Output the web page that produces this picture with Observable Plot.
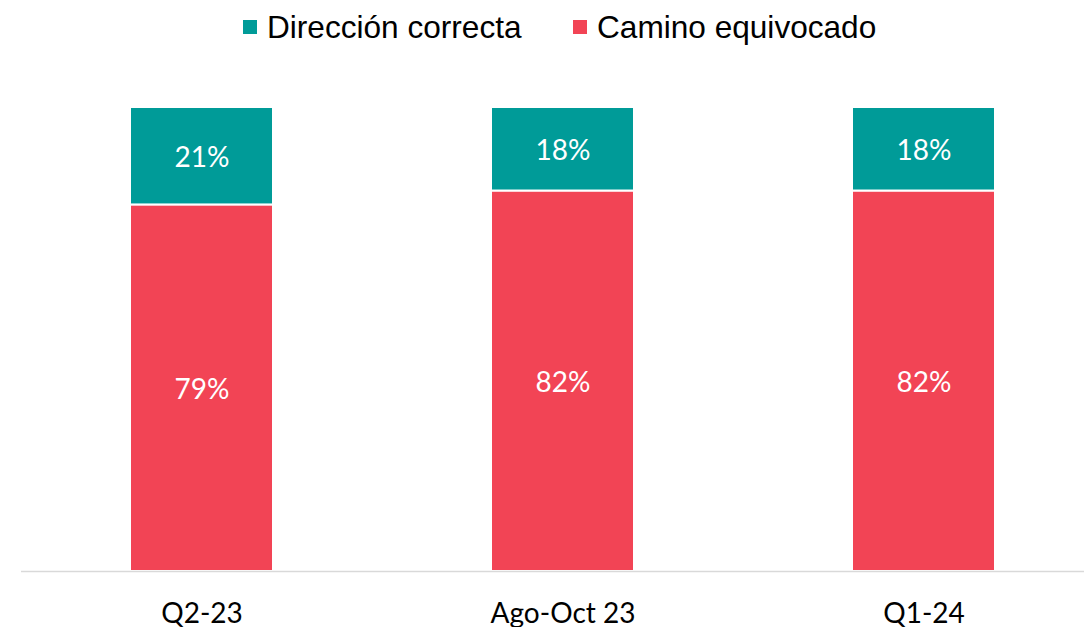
<!DOCTYPE html>
<html><head><meta charset="utf-8">
<script src="https://cdn.jsdelivr.net/npm/d3@7"></script>
<script src="https://cdn.jsdelivr.net/npm/@observablehq/plot@0.6"></script>
<style>
html,body{margin:0;padding:0;background:#fff}
body{width:1084px;height:627px;overflow:hidden}
#legend{position:relative;height:56px;font-family:"Liberation Sans",Arial,sans-serif;font-size:31.6px;color:#000}
.item{position:absolute;top:12px;height:31px;line-height:31px;white-space:nowrap}
.sw{position:absolute;left:0;top:8px;width:14px;height:14px}
.lab{position:absolute;left:24px;top:0}
#chart svg{display:block}
</style></head>
<body>
<div id="legend"></div>
<div id="chart"></div>
<script>
const categories = ["Q2-23", "Ago-Oct 23", "Q1-24"];
const seriesNames = ["Camino equivocado", "Dirección correcta"];
const caminoEquivocado = [79, 82, 82];
const direccionCorrecta = [21, 18, 18];
const colors = {"Camino equivocado": "#F24455", "Dirección correcta": "#009B98"};

const data = [];
categories.forEach((c, i) => {
  data.push({cat: c, serie: "Camino equivocado", value: caminoEquivocado[i]});
  data.push({cat: c, serie: "Dirección correcta", value: direccionCorrecta[i]});
});

// legend
const legend = document.getElementById("legend");
const legendItems = [["Dirección correcta", 243], ["Camino equivocado", 573]];
legendItems.forEach(([name, left]) => {
  const it = document.createElement("div");
  it.className = "item";
  it.style.left = left + "px";
  it.innerHTML = `<div class="sw" style="background:${colors[name]}"></div><span class="lab">${name}</span>`;
  legend.appendChild(it);
});

const chart = Plot.plot({
  width: 1084,
  height: 571,
  marginTop: 51,
  marginBottom: 56,
  marginLeft: 21,
  marginRight: 0,
  style: {fontFamily: "Lato, sans-serif", background: "#fff"},
  x: {domain: categories, range: [21, 1104], paddingInner: 0.604, paddingOuter: 0.302, label: null},
  y: {domain: [0, 100], axis: null},
  color: {domain: seriesNames, range: seriesNames.map(s => colors[s])},
  marks: [
    Plot.barY(data, Plot.stackY({
      x: "cat", y: "value", fill: "serie", order: seriesNames,
      stroke: "white", strokeWidth: 2
    })),
    Plot.text(data, Plot.stackY({
      x: "cat", y: "value", z: "serie", order: seriesNames,
      text: d => d.value + "%", fill: "white", fontSize: 28, dy: 2
    })),
    Plot.ruleY([0], {stroke: "#d9d9d9", strokeWidth: 1.5}),
    Plot.axisX({tickSize: 0, tickPadding: 32, fontSize: 28, fill: "#000", label: null})
  ]
});
document.getElementById("chart").appendChild(chart);
</script>
</body></html>
